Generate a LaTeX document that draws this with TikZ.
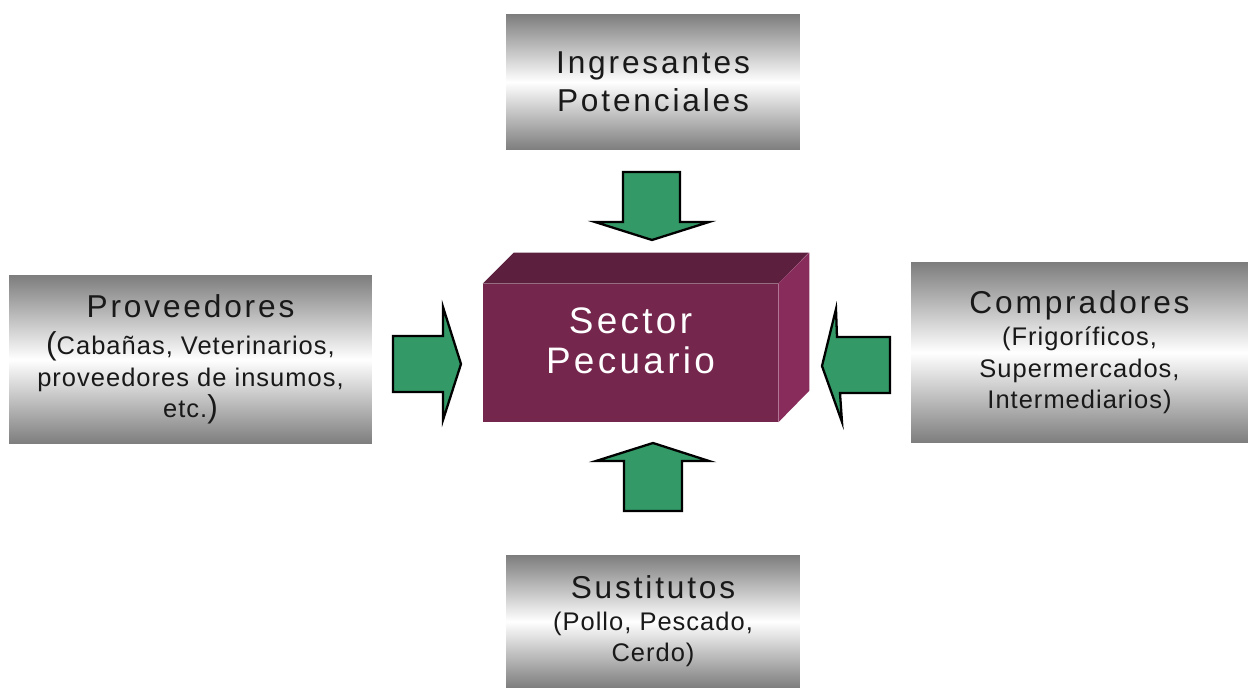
\documentclass[tikz,border=0pt]{standalone}
\usepackage{fontspec}
\setmainfont{Liberation Sans}
\newfontfamily\tituloFam{Liberation Sans}[LetterSpace=9]
\newfontfamily\detalleFam{Liberation Sans}[LetterSpace=4]
\newcommand{\titulo}{\tituloFam\fontsize{18}{21.5}\selectfont}
\newcommand{\detalle}{\detalleFam\fontsize{14.5}{18}\selectfont}
\newcommand{\centro}{\tituloFam\fontsize{21}{22.7}\selectfont}
\newcommand{\parG}[1]{{\fontsize{18}{18}\selectfont#1}}
\definecolor{gris}{RGB}{125,125,125}
\definecolor{verde}{RGB}{51,153,102}
\definecolor{frente}{RGB}{116,38,77}
\definecolor{techo}{RGB}{92,31,61}
\definecolor{lado}{RGB}{136,45,91}
\tikzset{
    caja/.style={rectangle,inner sep=0pt,align=center,text=black!90,
        top color=gris,bottom color=gris,middle color=white,font=\detalle},
    flecha/.style={draw=black,line width=1.3pt,fill=verde,line join=miter}
}

\begin{document}
\begin{tikzpicture}[x=0.02cm,y=-0.02cm]
\useasboundingbox (0,0) rectangle (1248,688);

% cajas de las fuerzas
\node[caja,minimum width=5.88cm,minimum height=2.72cm,font=\titulo] (ingresantes) at (653,82) {Ingresantes\\Potenciales};
\node[caja,minimum width=7.26cm,minimum height=3.38cm] (proveedores) at (190.5,359.5)
    {{\titulo Proveedores}\\[3pt]\parG{(}Cabañas, Veterinarios,\\proveedores de insumos,\\etc.\parG{)}};
\node[caja,minimum width=6.74cm,minimum height=3.62cm] (compradores) at (1079.5,352.5)
    {{\titulo Compradores}\\(Frigoríficos,\\Supermercados,\\Intermediarios)};
\node[caja,minimum width=5.88cm,minimum height=2.66cm] (sustitutos) at (653,621.5)
    {{\titulo Sustitutos}\\(Pollo, Pescado,\\Cerdo)};

% bloque central
\node[rectangle,fill=frente,minimum width=5.9cm,minimum height=2.76cm] (sector) at (630.5,353) {};
\fill[techo] (sector.north west) -- ++(31,-31) -- ++(295,0) -- (sector.north east) -- cycle;
\fill[lado] (sector.north east) -- ++(31,-31) -- ++(0,138) -- (sector.south east) -- cycle;
\node[text=white,align=center,font=\centro] (sectorTxt) at (630.5,341) {Sector\\Pecuario};

% flechas
\draw[flecha] (623,172) -- (680,172) -- (680,222) -- (709,222) -- (652,240) -- (595,222) -- (623,222) -- cycle;
\draw[flecha] (624,511) -- (682,511) -- (682,461) -- (709,461) -- (653,443) -- (596,461) -- (624,461) -- cycle;
\draw[flecha] (393,336) -- (443,336) -- (443,307) -- (461,364) -- (443,420) -- (443,392) -- (393,392) -- cycle;
\draw[flecha] (890,337) -- (837,337) -- (836,309) -- (822,366) -- (842,422) -- (840,393) -- (890,393) -- cycle;

\end{tikzpicture}
\end{document}
